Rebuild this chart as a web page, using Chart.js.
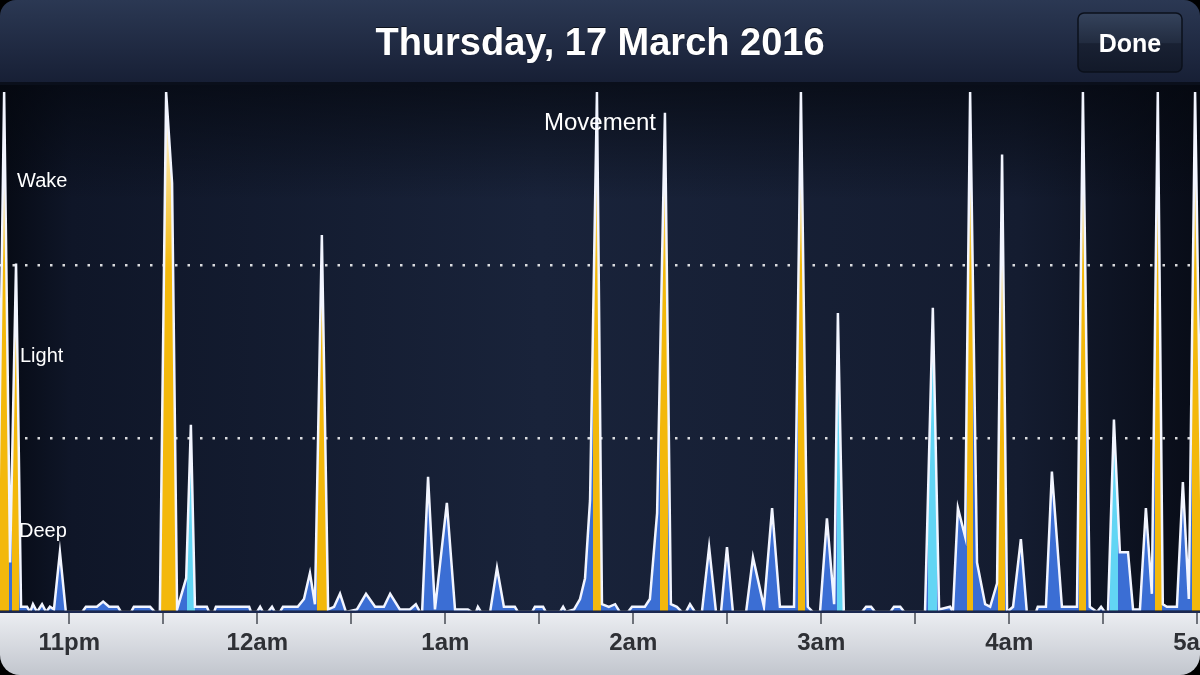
<!DOCTYPE html>
<html>
<head>
<meta charset="utf-8">
<script src="https://cdn.jsdelivr.net/npm/chart.js@4.4.1/dist/chart.umd.min.js"></script>
<style>
  html, body { margin: 0; padding: 0; background: #000; }
  #wrap { width: 1200px; height: 675px; }
</style>
</head>
<body>
<div id="wrap"><canvas id="sleepChart" width="1200" height="675"></canvas></div>
<script>
/* ---- data (x = minutes after 11pm, y = movement 0-100) ---- */
const times = [
    -23.1, -20.8, -18.9, -17.0, -15.4, -13.5, -12.5, -11.6, -10.3, -8.7,
    -7.4, -6.2, -4.9, -3.0, -1.1, 4.1, 5.3, 8.8, 10.8, 12.7,
    15.5, 16.5, 19.7, 20.6, 25.8, 27.3, 28.9, 30.9, 32.8, 34.4,
    37.3, 38.8, 40.1, 43.9, 44.6, 46.2, 46.8, 57.4, 58.0, 59.9,
    60.9, 61.8, 63.4, 64.7, 65.6, 67.2, 68.2, 72.9, 74.9, 76.8,
    78.4, 80.6, 82.6, 84.5, 86.4, 88.3, 91.8, 94.7, 97.6, 100.4,
    102.4, 105.5, 108.7, 110.6, 111.9, 112.6, 114.5, 116.7, 120.5, 123.1,
    127.2, 128.5, 129.8, 130.4, 131.4, 134.3, 136.5, 138.7, 142.2, 143.2,
    147.7, 148.6, 151.2, 152.1, 156.6, 157.6, 158.5, 161.1, 163.0, 164.6,
    166.2, 168.4, 170.0, 172.2, 174.2, 175.7, 178.3, 179.6, 183.7, 185.3,
    187.6, 190.1, 192.0, 193.9, 195.5, 196.8, 198.1, 199.7, 201.9, 204.2,
    206.4, 208.0, 209.9, 211.8, 216.0, 218.2, 221.7, 224.3, 226.8, 229.4,
    231.3, 233.5, 235.7, 237.3, 239.6, 241.8, 244.1, 245.3, 247.2, 253.0,
    254.3, 255.9, 257.2, 262.0, 263.2, 265.2, 266.5, 273.1, 275.6, 277.6,
    281.1, 282.0, 283.6, 285.9, 287.5, 289.7, 292.3, 293.9, 296.1, 297.7,
    299.3, 301.2, 303.7, 305.6, 308.5, 309.1, 311.7, 313.6, 316.8, 321.6,
    323.5, 325.7, 328.0, 329.3, 330.5, 331.5, 333.4, 335.3, 337.9, 339.5,
    341.7, 343.6, 345.5, 347.4, 349.0, 350.3, 353.5, 355.4, 357.3, 359.3,
    361.8
];
const movement = [
    0, 100, 9.5, 67, 1, 1, 0, 1.5, 0, 1.5,
    0, 1, 0.5, 11.5, 0, 0, 1, 1, 2, 1,
    1, 0, 0, 1, 1, 0, 0, 100, 82.5, 0.5,
    6.5, 36, 1, 1, 0, 0, 1, 1, 0, 0,
    1, 0, 0, 1, 0, 0, 1, 1, 2.5, 7.5,
    1.5, 72.5, 0.5, 1, 3.5, 0, 0.5, 3.5, 1, 1,
    3.5, 0.5, 0.5, 1.5, 0, 0, 26, 0.5, 21, 0.5,
    0.5, 0, 0, 1, 0, 0, 8.5, 1, 1, 0,
    0, 1, 1, 0, 0, 1, 0, 0.5, 2.5, 6.5,
    21.5, 100, 1.5, 1, 1.5, 0, 0, 1, 1, 2.5,
    19, 96, 1.5, 1, 0, 0, 1.5, 0, 0, 12.5,
    0, 0, 12.5, 0, 0, 10.5, 1, 20, 1, 1,
    1, 100, 1, 0, 0, 18, 1.5, 57.5, 0, 0,
    1, 1, 0, 0, 1, 1, 0, 0, 58.5, 0.5,
    1, 0, 20, 14.5, 100, 9.5, 1.5, 1, 5.5, 88,
    0, 1, 14, 0, 0, 1, 1, 27, 1, 1,
    100, 1, 0, 1, 0, 0, 37, 11.5, 11.5, 0.5,
    0.5, 20, 3.5, 100, 1.5, 1, 1, 25, 2.5, 100,
    0
];
// sleep stage strips [start, end] in minutes
const wakePeriods = [
    [-23, -19.2], [-18.3, -16.0], [29.3, 34.1], [79.0, 82.2], [167.1, 169.7], [188.5, 191.1],
    [232.6, 234.8], [286.5, 288.4], [296.4, 298.6], [322.2, 324.5], [346.5, 348.7], [358.3, 362]
];
const lightPeriods = [[37.6, 40.1], [245.0, 246.9], [274.0, 276.9], [332.1, 334.7]];
const tickMinutes = [0, 30, 60, 90, 120, 150, 180, 210, 240, 270, 300, 330, 360];
const hourLabels = ['11pm', '12am', '1am', '2am', '3am', '4am', '5am'];
const bandLabels = ['Deep', 'Light', 'Wake'];
const bandLines = [100 / 3, 200 / 3];
const titleText = 'Thursday, 17 March 2016';

const blueFill = '#3b6ed4';
const wakeFill = '#f3b80c';
const lightFill = '#62d5f4';
const FONT = '"Liberation Sans", Arial, Helvetica, sans-serif';

// horizontal gradient with hard stops = colour per sleep stage
function stageFill(context) {
    const chart = context.chart;
    const area = chart.chartArea;
    if (!area) return blueFill;
    const xs = chart.scales.x;
    const w = area.right - area.left;
    const pos = t => Math.min(1, Math.max(0, (xs.getPixelForValue(t) - area.left) / w));
    const spans = wakePeriods.map(p => [p, wakeFill])
        .concat(lightPeriods.map(p => [p, lightFill]))
        .sort((a, b) => a[0][0] - b[0][0]);
    const g = chart.ctx.createLinearGradient(area.left, 0, area.right, 0);
    g.addColorStop(0, blueFill);
    spans.forEach(([p, col]) => {
        g.addColorStop(pos(p[0]), blueFill);
        g.addColorStop(pos(p[0]), col);
        g.addColorStop(pos(p[1]), col);
        g.addColorStop(pos(p[1]), blueFill);
    });
    g.addColorStop(1, blueFill);
    return g;
}

// white glow on the tips of tall spikes
function glowFill(context) {
    const chart = context.chart;
    if (!chart.chartArea) return 'rgba(255,255,255,0)';
    const ys = chart.scales.y;
    const g = chart.ctx.createLinearGradient(0, ys.getPixelForValue(66), 0, ys.getPixelForValue(97));
    g.addColorStop(0, 'rgba(255,255,255,0)');
    g.addColorStop(0.6, 'rgba(255,255,255,0.5)');
    g.addColorStop(1, 'rgba(255,255,255,0.95)');
    return g;
}

const frame = {
    id: 'frame',
    beforeDraw(chart) {
        const c = chart.ctx;
        const W = chart.width, H = chart.height;
        c.save();
        c.fillStyle = '#000';
        c.fillRect(0, 0, W, H);

        // plot background
        let g = c.createLinearGradient(0, 0, W, 0);
        g.addColorStop(0, '#060a14');
        g.addColorStop(0.06, '#0f1628');
        g.addColorStop(0.45, '#19233a');
        g.addColorStop(0.85, '#141c30');
        g.addColorStop(1, '#080c17');
        c.fillStyle = g;
        c.fillRect(0, 80, W, 535);
        g = c.createLinearGradient(0, 83, 0, 200);
        g.addColorStop(0, 'rgba(4,7,14,0.7)');
        g.addColorStop(1, 'rgba(4,7,14,0)');
        c.fillStyle = g;
        c.fillRect(0, 83, W, 120);

        // header
        g = c.createLinearGradient(0, 0, 0, 83);
        g.addColorStop(0, '#2b3853');
        g.addColorStop(1, '#171f35');
        c.fillStyle = g;
        c.beginPath();
        c.roundRect(0, 0, W, 83, [16, 16, 0, 0]);
        c.fill();
        c.fillStyle = '#0a0f1b';
        c.fillRect(0, 82, W, 3);

        c.font = 'bold 38px ' + FONT;
        c.textAlign = 'center';
        c.textBaseline = 'alphabetic';
        c.shadowColor = 'rgba(0,0,0,0.6)';
        c.shadowOffsetY = -1;
        c.fillStyle = '#ffffff';
        c.fillText(titleText, 600, 55);
        c.shadowColor = 'transparent';

        // Done button
        g = c.createLinearGradient(0, 13, 0, 72);
        g.addColorStop(0, '#35435c');
        g.addColorStop(0.5, '#222c40');
        g.addColorStop(0.52, '#192133');
        g.addColorStop(1, '#121929');
        c.fillStyle = g;
        c.beginPath();
        c.roundRect(1078, 13, 104, 59, 6);
        c.fill();
        c.strokeStyle = '#0b101b';
        c.lineWidth = 1.5;
        c.stroke();
        c.font = 'bold 25px ' + FONT;
        c.fillStyle = '#ffffff';
        c.fillText('Done', 1130, 52);

        // axis bar
        g = c.createLinearGradient(0, 612, 0, 675);
        g.addColorStop(0, '#eceef2');
        g.addColorStop(1, '#c2c6ce');
        c.fillStyle = g;
        c.beginPath();
        c.roundRect(0, 612, W, 63, [0, 0, 20, 20]);
        c.fill();
        c.restore();
    },
    afterDatasetsDraw(chart) {
        const c = chart.ctx;
        const ys = chart.scales.y;
        const lx = [19, 20, 17];
        const dy = [12, 10, 8];
        c.save();
        c.fillStyle = '#ffffff';
        c.textBaseline = 'alphabetic';
        c.textAlign = 'left';
        c.font = '20px ' + FONT;
        bandLabels.forEach((label, i) => {
            const mid = ys.getPixelForValue((i + 0.5) * 100 / 3);
            c.fillText(label, lx[i], mid + dy[i]);
        });
        c.textAlign = 'center';
        c.font = '24px ' + FONT;
        c.fillText('Movement', 600, 130);
        c.restore();
    }
};

const points = times.map((t, i) => ({ x: t, y: movement[i] }));

new Chart(document.getElementById('sleepChart'), {
    type: 'line',
    data: {
        datasets: [{
            label: 'Movement',
            data: points,
            borderColor: '#f2f5ff',
            borderWidth: 2.5,
            backgroundColor: glowFill,
            fill: 'origin',
            tension: 0,
            pointRadius: 0,
            clip: { left: 5, top: 0, right: 5, bottom: -1.5 }
        }, {
            label: 'Stage',
            data: points,
            borderWidth: 0,
            borderColor: 'rgba(0,0,0,0)',
            backgroundColor: stageFill,
            fill: 'origin',
            tension: 0,
            pointRadius: 0,
            clip: { left: 5, top: 0, right: 5, bottom: -1.5 }
        }]
    },
    options: {
        responsive: false,
        animation: false,
        layout: { padding: { top: 92, left: 0, right: 0, bottom: 0 } },
        scales: {
            x: {
                type: 'linear',
                min: -22.12,
                max: 360.87,
                z: 1,
                afterBuildTicks: (axis) => {
                    axis.ticks = tickMinutes.map(v => ({ value: v }));
                },
                afterFit: (axis) => {
                    axis.height = 63;
                    axis.paddingLeft = 0;
                    axis.paddingRight = 0;
                },
                grid: {
                    drawOnChartArea: false,
                    drawTicks: true,
                    tickLength: 12,
                    color: '#6e727a',
                    lineWidth: 2
                },
                border: { display: true, color: '#1b2850', width: 2 },
                ticks: {
                    autoSkip: false,
                    maxRotation: 0,
                    padding: 5,
                    color: '#2e3035',
                    font: { family: 'Liberation Sans', weight: 'bold', size: 24 },
                    callback: (value) => value % 60 === 0 ? hourLabels[value / 60] : ''
                }
            },
            y: {
                min: 0,
                max: 100,
                z: 1,
                afterBuildTicks: (axis) => {
                    axis.ticks = bandLines.map(v => ({ value: v }));
                },
                afterFit: (axis) => { axis.width = 0; },
                ticks: { display: false },
                grid: { color: 'rgba(255,255,255,0.85)', lineWidth: 2.5, drawTicks: false },
                border: { display: false, dash: [2.5, 10] }
            }
        },
        plugins: {
            legend: { display: false },
            tooltip: { enabled: false }
        }
    },
    plugins: [frame]
});
</script>
</body>
</html>
